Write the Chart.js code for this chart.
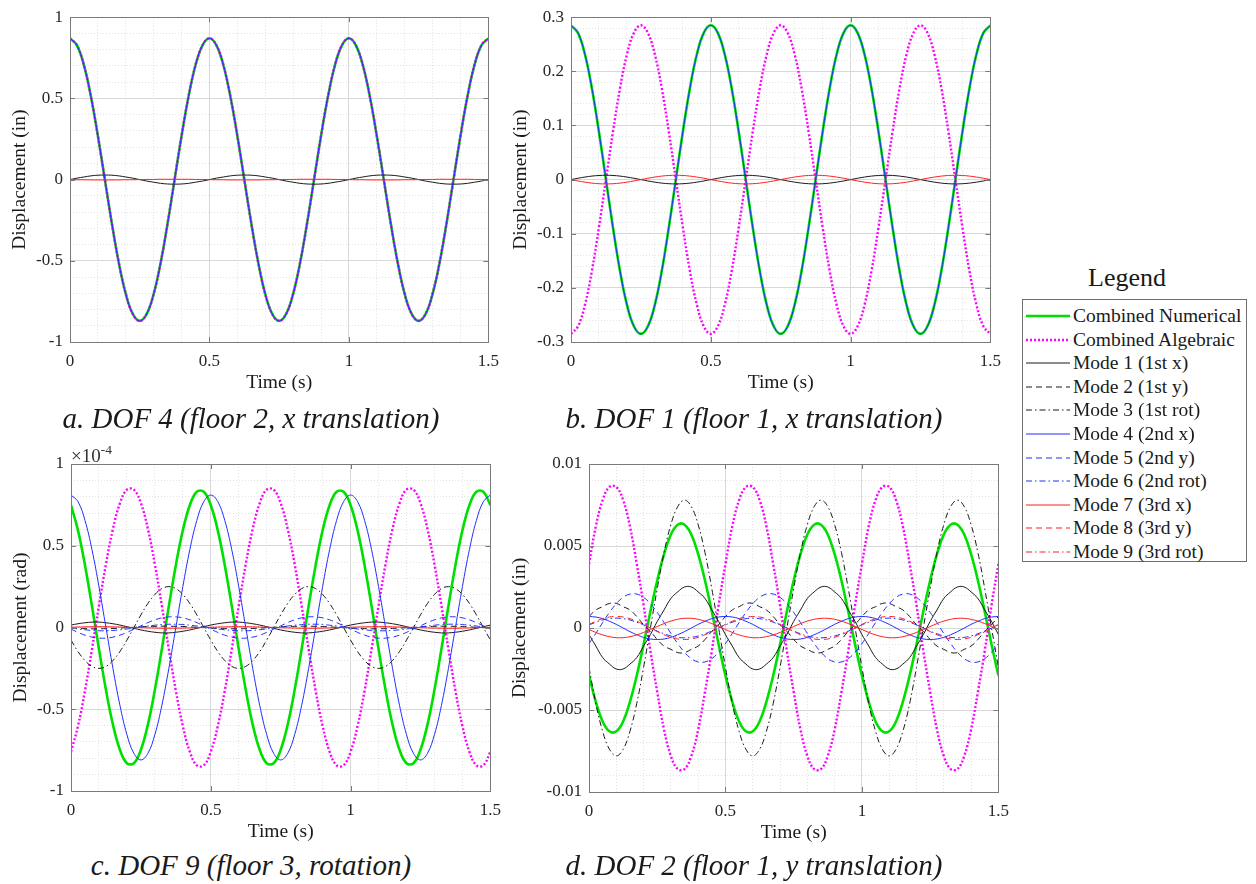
<!DOCTYPE html>
<html>
<head>
<meta charset="utf-8">
<script src="https://cdn.jsdelivr.net/npm/chart.js@4.4.1/dist/chart.umd.min.js"></script>
<style>
  body { margin: 0; background: #fff; width: 1256px; height: 884px; position: relative; overflow: hidden;
         font-family: "Liberation Serif", "Times New Roman", serif; color: #1a1a1a; }
  canvas { position: absolute; }
  .caption { position: absolute; font-style: italic; font-size: 29px; white-space: nowrap;
             transform: translate(-50%, -50%); }
  .exponent { position: absolute; left: 71px; top: 442px; font-size: 19px; color: #333; }
  .exponent sup { font-size: 13.5px; vertical-align: 8px; }
  #legendTitle { position: absolute; left: 1127px; top: 278px; transform: translate(-50%, -50%); font-size: 26px; }
  #legend { position: absolute; left: 1022px; top: 299px; width: 225px; height: 263px;
            border: 1px solid #6e6e6e; box-sizing: border-box; }
  .row { position: absolute; left: 0; height: 24px; width: 225px; font-size: 19.5px; line-height: 24px; }
  .row svg { position: absolute; left: 2px; top: 0; }
  .row span { position: absolute; left: 50px; top: 0; white-space: nowrap; }
</style>
</head>
<body>

<canvas id="dof4" width="500" height="395" style="left:8px;top:0px"></canvas>
<canvas id="dof1" width="501" height="395" style="left:509px;top:0px"></canvas>
<canvas id="dof9" width="501" height="410" style="left:9px;top:434px"></canvas>
<canvas id="dof2" width="510" height="411" style="left:508px;top:434px"></canvas>

<div class="exponent">&times;10<sup>-4</sup></div>

<div class="caption" style="left:251px;top:418px">a. DOF 4 (floor 2, x translation)</div>
<div class="caption" style="left:754px;top:418px">b. DOF 1 (floor 1, x translation)</div>
<div class="caption" style="left:251px;top:865px">c. DOF 9 (floor 3, rotation)</div>
<div class="caption" style="left:754px;top:865px">d. DOF 2 (floor 1, y translation)</div>

<div id="legendTitle">Legend</div>
<div id="legend"></div>

<script>
Chart.defaults.font.family = '"Liberation Serif", "Times New Roman", serif';

// sample times (s)
const timeSeconds = [
  0,0.025,0.05,0.075,0.1,0.125,0.15,0.175,0.2,0.225,0.25,0.275,0.3,0.325,0.35,0.375,0.4,0.425,0.45,0.475,
  0.5,0.525,0.55,0.575,0.6,0.625,0.65,0.675,0.7,0.725,0.75,0.775,0.8,0.825,0.85,0.875,0.9,0.925,0.95,0.975,
  1,1.025,1.05,1.075,1.1,1.125,1.15,1.175,1.2,1.225,1.25,1.275,1.3,1.325,1.35,1.375,1.4,1.425,1.45,1.475,
  1.5
];

// DOF 4 (floor 2, x) - inches
const dof4Numerical = [
  0.87,0.827,0.704,0.512,0.269,0,-0.269,-0.512,-0.704,-0.827,-0.87,-0.827,-0.704,-0.512,-0.269,0,0.269,0.512,0.704,0.827,
  0.87,0.827,0.704,0.512,0.269,0,-0.269,-0.512,-0.704,-0.827,-0.87,-0.827,-0.704,-0.512,-0.269,0,0.269,0.512,0.704,0.827,
  0.87,0.827,0.704,0.512,0.269,0,-0.269,-0.512,-0.704,-0.827,-0.87,-0.827,-0.704,-0.512,-0.269,0,0.269,0.512,0.704,0.827,
  0.87
];
// algebraic result and mode 4 sit right on top of the numerical curve
const dof4Algebraic = dof4Numerical;
const dof4Mode4 = dof4Numerical;
const dof4Mode1 = [
  0,0.009,0.016,0.023,0.027,0.028,0.027,0.023,0.016,0.009,0,-0.009,-0.016,-0.023,-0.027,-0.028,-0.027,-0.023,-0.016,-0.009,
  0,0.009,0.016,0.023,0.027,0.028,0.027,0.023,0.016,0.009,0,-0.009,-0.016,-0.023,-0.027,-0.028,-0.027,-0.023,-0.016,-0.009,
  0,0.009,0.016,0.023,0.027,0.028,0.027,0.023,0.016,0.009,0,-0.009,-0.016,-0.023,-0.027,-0.028,-0.027,-0.023,-0.016,-0.009,
  0
];
const dof4Mode7 = [
  0,-0.001,-0.001,-0.002,-0.002,-0.002,-0.002,-0.002,-0.001,-0.001,0,0.001,0.001,0.002,0.002,0.002,0.002,0.002,0.001,0.001,
  0,-0.001,-0.001,-0.002,-0.002,-0.002,-0.002,-0.002,-0.001,-0.001,0,0.001,0.001,0.002,0.002,0.002,0.002,0.002,0.001,0.001,
  0,-0.001,-0.001,-0.002,-0.002,-0.002,-0.002,-0.002,-0.001,-0.001,0,0.001,0.001,0.002,0.002,0.002,0.002,0.002,0.001,0.001,
  0
];

// DOF 1 (floor 1, x) - inches
const dof1Numerical = [
  0.285,0.271,0.231,0.168,0.088,0,-0.088,-0.168,-0.231,-0.271,-0.285,-0.271,-0.231,-0.168,-0.088,0,0.088,0.168,0.231,0.271,
  0.285,0.271,0.231,0.168,0.088,0,-0.088,-0.168,-0.231,-0.271,-0.285,-0.271,-0.231,-0.168,-0.088,0,0.088,0.168,0.231,0.271,
  0.285,0.271,0.231,0.168,0.088,0,-0.088,-0.168,-0.231,-0.271,-0.285,-0.271,-0.231,-0.168,-0.088,0,0.088,0.168,0.231,0.271,
  0.285
];
const dof1Algebraic = [
  -0.285,-0.271,-0.231,-0.168,-0.088,0,0.088,0.168,0.231,0.271,0.285,0.271,0.231,0.168,0.088,0,-0.088,-0.168,-0.231,-0.271,
  -0.285,-0.271,-0.231,-0.168,-0.088,0,0.088,0.168,0.231,0.271,0.285,0.271,0.231,0.168,0.088,0,-0.088,-0.168,-0.231,-0.271,
  -0.285,-0.271,-0.231,-0.168,-0.088,0,0.088,0.168,0.231,0.271,0.285,0.271,0.231,0.168,0.088,0,-0.088,-0.168,-0.231,-0.271,
  -0.285
];
const dof1Mode4 = dof1Numerical;
const dof1Mode1 = [
  0,0.0025,0.0047,0.0065,0.0076,0.008,0.0076,0.0065,0.0047,0.0025,0,-0.0025,-0.0047,-0.0065,-0.0076,-0.008,-0.0076,-0.0065,-0.0047,-0.0025,
  0,0.0025,0.0047,0.0065,0.0076,0.008,0.0076,0.0065,0.0047,0.0025,0,-0.0025,-0.0047,-0.0065,-0.0076,-0.008,-0.0076,-0.0065,-0.0047,-0.0025,
  0,0.0025,0.0047,0.0065,0.0076,0.008,0.0076,0.0065,0.0047,0.0025,0,-0.0025,-0.0047,-0.0065,-0.0076,-0.008,-0.0076,-0.0065,-0.0047,-0.0025,
  0
];
const dof1Mode7 = [
  0,-0.0025,-0.0047,-0.0065,-0.0076,-0.008,-0.0076,-0.0065,-0.0047,-0.0025,0,0.0025,0.0047,0.0065,0.0076,0.008,0.0076,0.0065,0.0047,0.0025,
  0,-0.0025,-0.0047,-0.0065,-0.0076,-0.008,-0.0076,-0.0065,-0.0047,-0.0025,0,0.0025,0.0047,0.0065,0.0076,0.008,0.0076,0.0065,0.0047,0.0025,
  0,-0.0025,-0.0047,-0.0065,-0.0076,-0.008,-0.0076,-0.0065,-0.0047,-0.0025,0,0.0025,0.0047,0.0065,0.0076,0.008,0.0076,0.0065,0.0047,0.0025,
  0
];

// DOF 9 (floor 3, rotation) - units of 1e-4 rad
const dof9Numerical = [
  0.748,0.594,0.381,0.131,-0.131,-0.381,-0.594,-0.748,-0.83,-0.83,-0.748,-0.594,-0.381,-0.131,0.131,0.381,0.594,0.748,0.83,0.83,
  0.748,0.594,0.381,0.131,-0.131,-0.381,-0.594,-0.748,-0.83,-0.83,-0.748,-0.594,-0.381,-0.131,0.131,0.381,0.594,0.748,0.83,0.83,
  0.748,0.594,0.381,0.131,-0.131,-0.381,-0.594,-0.748,-0.83,-0.83,-0.748,-0.594,-0.381,-0.131,0.131,0.381,0.594,0.748,0.83,0.83,
  0.748
];
const dof9Algebraic = [
  -0.76,-0.603,-0.387,-0.133,0.133,0.387,0.603,0.76,0.843,0.843,0.76,0.603,0.387,0.133,-0.133,-0.387,-0.603,-0.76,-0.843,-0.843,
  -0.76,-0.603,-0.387,-0.133,0.133,0.387,0.603,0.76,0.843,0.843,0.76,0.603,0.387,0.133,-0.133,-0.387,-0.603,-0.76,-0.843,-0.843,
  -0.76,-0.603,-0.387,-0.133,0.133,0.387,0.603,0.76,0.843,0.843,0.76,0.603,0.387,0.133,-0.133,-0.387,-0.603,-0.76,-0.843,-0.843,
  -0.76
];
const dof9Mode1 = [
  0.015,0.023,0.029,0.033,0.033,0.029,0.023,0.015,0.005,-0.005,-0.015,-0.023,-0.029,-0.033,-0.033,-0.029,-0.023,-0.015,-0.005,0.005,
  0.015,0.023,0.029,0.033,0.033,0.029,0.023,0.015,0.005,-0.005,-0.015,-0.023,-0.029,-0.033,-0.033,-0.029,-0.023,-0.015,-0.005,0.005,
  0.015,0.023,0.029,0.033,0.033,0.029,0.023,0.015,0.005,-0.005,-0.015,-0.023,-0.029,-0.033,-0.033,-0.029,-0.023,-0.015,-0.005,0.005,
  0.015
];
const dof9Mode2 = [
  -0.004,-0.006,-0.007,-0.008,-0.008,-0.007,-0.006,-0.004,-0.001,0.001,0.004,0.006,0.007,0.008,0.008,0.007,0.006,0.004,0.001,-0.001,
  -0.004,-0.006,-0.007,-0.008,-0.008,-0.007,-0.006,-0.004,-0.001,0.001,0.004,0.006,0.007,0.008,0.008,0.007,0.006,0.004,0.001,-0.001,
  -0.004,-0.006,-0.007,-0.008,-0.008,-0.007,-0.006,-0.004,-0.001,0.001,0.004,0.006,0.007,0.008,0.008,0.007,0.006,0.004,0.001,-0.001,
  -0.004
];
const dof9Mode3 = [
  -0.077,-0.147,-0.202,-0.238,-0.25,-0.238,-0.202,-0.147,-0.077,0,0.077,0.147,0.202,0.238,0.25,0.238,0.202,0.147,0.077,0,
  -0.077,-0.147,-0.202,-0.238,-0.25,-0.238,-0.202,-0.147,-0.077,0,0.077,0.147,0.202,0.238,0.25,0.238,0.202,0.147,0.077,0,
  -0.077,-0.147,-0.202,-0.238,-0.25,-0.238,-0.202,-0.147,-0.077,0,0.077,0.147,0.202,0.238,0.25,0.238,0.202,0.147,0.077,0,
  -0.077
];
const dof9Mode4 = [
  0.81,0.77,0.655,0.476,0.25,0,-0.25,-0.476,-0.655,-0.77,-0.81,-0.77,-0.655,-0.476,-0.25,0,0.25,0.476,0.655,0.77,
  0.81,0.77,0.655,0.476,0.25,0,-0.25,-0.476,-0.655,-0.77,-0.81,-0.77,-0.655,-0.476,-0.25,0,0.25,0.476,0.655,0.77,
  0.81,0.77,0.655,0.476,0.25,0,-0.25,-0.476,-0.655,-0.77,-0.81,-0.77,-0.655,-0.476,-0.25,0,0.25,0.476,0.655,0.77,
  0.81
];
const dof9Mode5 = [
  -0.01,-0.03,-0.047,-0.059,-0.065,-0.065,-0.059,-0.047,-0.03,-0.01,0.01,0.03,0.047,0.059,0.065,0.065,0.059,0.047,0.03,0.01,
  -0.01,-0.03,-0.047,-0.059,-0.065,-0.065,-0.059,-0.047,-0.03,-0.01,0.01,0.03,0.047,0.059,0.065,0.065,0.059,0.047,0.03,0.01,
  -0.01,-0.03,-0.047,-0.059,-0.065,-0.065,-0.059,-0.047,-0.03,-0.01,0.01,0.03,0.047,0.059,0.065,0.065,0.059,0.047,0.03,0.01,
  -0.01
];
const dof9Mode6 = [
  -0.003,-0.009,-0.014,-0.018,-0.02,-0.02,-0.018,-0.014,-0.009,-0.003,0.003,0.009,0.014,0.018,0.02,0.02,0.018,0.014,0.009,0.003,
  -0.003,-0.009,-0.014,-0.018,-0.02,-0.02,-0.018,-0.014,-0.009,-0.003,0.003,0.009,0.014,0.018,0.02,0.02,0.018,0.014,0.009,0.003,
  -0.003,-0.009,-0.014,-0.018,-0.02,-0.02,-0.018,-0.014,-0.009,-0.003,0.003,0.009,0.014,0.018,0.02,0.02,0.018,0.014,0.009,0.003,
  -0.003
];
const dof9Mode7 = [
  0.0015,0.0029,0.004,0.0048,0.005,0.0048,0.004,0.0029,0.0015,0,-0.0015,-0.0029,-0.004,-0.0048,-0.005,-0.0048,-0.004,-0.0029,-0.0015,0,
  0.0015,0.0029,0.004,0.0048,0.005,0.0048,0.004,0.0029,0.0015,0,-0.0015,-0.0029,-0.004,-0.0048,-0.005,-0.0048,-0.004,-0.0029,-0.0015,0,
  0.0015,0.0029,0.004,0.0048,0.005,0.0048,0.004,0.0029,0.0015,0,-0.0015,-0.0029,-0.004,-0.0048,-0.005,-0.0048,-0.004,-0.0029,-0.0015,0,
  0.0015
];

// DOF 2 (floor 1, y) - inches
const dof2Numerical = [
  -0.0029,-0.0045,-0.0057,-0.0063,-0.0063,-0.0057,-0.0045,-0.0029,-0.001,0.001,0.0029,0.0045,0.0057,0.0063,0.0063,0.0057,0.0045,0.0029,0.001,-0.001,
  -0.0029,-0.0045,-0.0057,-0.0063,-0.0063,-0.0057,-0.0045,-0.0029,-0.001,0.001,0.0029,0.0045,0.0057,0.0063,0.0063,0.0057,0.0045,0.0029,0.001,-0.001,
  -0.0029,-0.0045,-0.0057,-0.0063,-0.0063,-0.0057,-0.0045,-0.0029,-0.001,0.001,0.0029,0.0045,0.0057,0.0063,0.0063,0.0057,0.0045,0.0029,0.001,-0.001,
  -0.0029
];
const dof2Algebraic = [
  0.0039,0.0062,0.0078,0.0086,0.0086,0.0078,0.0062,0.0039,0.0014,-0.0014,-0.0039,-0.0062,-0.0078,-0.0086,-0.0086,-0.0078,-0.0062,-0.0039,-0.0014,0.0014,
  0.0039,0.0062,0.0078,0.0086,0.0086,0.0078,0.0062,0.0039,0.0014,-0.0014,-0.0039,-0.0062,-0.0078,-0.0086,-0.0086,-0.0078,-0.0062,-0.0039,-0.0014,0.0014,
  0.0039,0.0062,0.0078,0.0086,0.0086,0.0078,0.0062,0.0039,0.0014,-0.0014,-0.0039,-0.0062,-0.0078,-0.0086,-0.0086,-0.0078,-0.0062,-0.0039,-0.0014,0.0014,
  0.0039
];
const dof2Mode1 = [
  -0.0004,-0.0011,-0.0018,-0.0022,-0.0025,-0.0025,-0.0022,-0.0018,-0.0011,-0.0004,0.0004,0.0011,0.0018,0.0022,0.0025,0.0025,0.0022,0.0018,0.0011,0.0004,
  -0.0004,-0.0011,-0.0018,-0.0022,-0.0025,-0.0025,-0.0022,-0.0018,-0.0011,-0.0004,0.0004,0.0011,0.0018,0.0022,0.0025,0.0025,0.0022,0.0018,0.0011,0.0004,
  -0.0004,-0.0011,-0.0018,-0.0022,-0.0025,-0.0025,-0.0022,-0.0018,-0.0011,-0.0004,0.0004,0.0011,0.0018,0.0022,0.0025,0.0025,0.0022,0.0018,0.0011,0.0004,
  -0.0004
];
const dof2Mode2 = [
  0.0007,0.0011,0.0013,0.0015,0.0015,0.0013,0.0011,0.0007,0.0002,-0.0002,-0.0007,-0.0011,-0.0013,-0.0015,-0.0015,-0.0013,-0.0011,-0.0007,-0.0002,0.0002,
  0.0007,0.0011,0.0013,0.0015,0.0015,0.0013,0.0011,0.0007,0.0002,-0.0002,-0.0007,-0.0011,-0.0013,-0.0015,-0.0015,-0.0013,-0.0011,-0.0007,-0.0002,0.0002,
  0.0007,0.0011,0.0013,0.0015,0.0015,0.0013,0.0011,0.0007,0.0002,-0.0002,-0.0007,-0.0011,-0.0013,-0.0015,-0.0015,-0.0013,-0.0011,-0.0007,-0.0002,0.0002,
  0.0007
];
const dof2Mode3 = [
  -0.0024,-0.0046,-0.0063,-0.0074,-0.0078,-0.0074,-0.0063,-0.0046,-0.0024,0,0.0024,0.0046,0.0063,0.0074,0.0078,0.0074,0.0063,0.0046,0.0024,0,
  -0.0024,-0.0046,-0.0063,-0.0074,-0.0078,-0.0074,-0.0063,-0.0046,-0.0024,0,0.0024,0.0046,0.0063,0.0074,0.0078,0.0074,0.0063,0.0046,0.0024,0,
  -0.0024,-0.0046,-0.0063,-0.0074,-0.0078,-0.0074,-0.0063,-0.0046,-0.0024,0,0.0024,0.0046,0.0063,0.0074,0.0078,0.0074,0.0063,0.0046,0.0024,0,
  -0.0024
];
const dof2Mode4 = [
  0.0007,0.00067,0.00057,0.00041,0.00022,0,-0.00022,-0.00041,-0.00057,-0.00067,-0.0007,-0.00067,-0.00057,-0.00041,-0.00022,0,0.00022,0.00041,0.00057,0.00067,
  0.0007,0.00067,0.00057,0.00041,0.00022,0,-0.00022,-0.00041,-0.00057,-0.00067,-0.0007,-0.00067,-0.00057,-0.00041,-0.00022,0,0.00022,0.00041,0.00057,0.00067,
  0.0007,0.00067,0.00057,0.00041,0.00022,0,-0.00022,-0.00041,-0.00057,-0.00067,-0.0007,-0.00067,-0.00057,-0.00041,-0.00022,0,0.00022,0.00041,0.00057,0.00067,
  0.0007
];
const dof2Mode5 = [
  -0.00095,-0.00033,0.00033,0.00095,0.00148,0.00187,0.00207,0.00207,0.00187,0.00148,0.00095,0.00033,-0.00033,-0.00095,-0.00148,-0.00187,-0.00207,-0.00207,-0.00187,-0.00148,
  -0.00095,-0.00033,0.00033,0.00095,0.00148,0.00187,0.00207,0.00207,0.00187,0.00148,0.00095,0.00033,-0.00033,-0.00095,-0.00148,-0.00187,-0.00207,-0.00207,-0.00187,-0.00148,
  -0.00095,-0.00033,0.00033,0.00095,0.00148,0.00187,0.00207,0.00207,0.00187,0.00148,0.00095,0.00033,-0.00033,-0.00095,-0.00148,-0.00187,-0.00207,-0.00207,-0.00187,-0.00148,
  -0.00095
];
const dof2Mode6 = [
  0.00019,0.00035,0.00049,0.00057,0.0006,0.00057,0.00049,0.00035,0.00019,0,-0.00019,-0.00035,-0.00049,-0.00057,-0.0006,-0.00057,-0.00049,-0.00035,-0.00019,0,
  0.00019,0.00035,0.00049,0.00057,0.0006,0.00057,0.00049,0.00035,0.00019,0,-0.00019,-0.00035,-0.00049,-0.00057,-0.0006,-0.00057,-0.00049,-0.00035,-0.00019,0,
  0.00019,0.00035,0.00049,0.00057,0.0006,0.00057,0.00049,0.00035,0.00019,0,-0.00019,-0.00035,-0.00049,-0.00057,-0.0006,-0.00057,-0.00049,-0.00035,-0.00019,0,
  0.00019
];
const dof2Mode7 = [
  -0.00009,-0.00027,-0.00042,-0.00053,-0.00059,-0.00059,-0.00053,-0.00042,-0.00027,-0.00009,0.00009,0.00027,0.00042,0.00053,0.00059,0.00059,0.00053,0.00042,0.00027,0.00009,
  -0.00009,-0.00027,-0.00042,-0.00053,-0.00059,-0.00059,-0.00053,-0.00042,-0.00027,-0.00009,0.00009,0.00027,0.00042,0.00053,0.00059,0.00059,0.00053,0.00042,0.00027,0.00009,
  -0.00009,-0.00027,-0.00042,-0.00053,-0.00059,-0.00059,-0.00053,-0.00042,-0.00027,-0.00009,0.00009,0.00027,0.00042,0.00053,0.00059,0.00059,0.00053,0.00042,0.00027,0.00009,
  -0.00009
];
const dof2Mode8 = [
  0.00022,0.00041,0.00057,0.00067,0.0007,0.00067,0.00057,0.00041,0.00022,0,-0.00022,-0.00041,-0.00057,-0.00067,-0.0007,-0.00067,-0.00057,-0.00041,-0.00022,0,
  0.00022,0.00041,0.00057,0.00067,0.0007,0.00067,0.00057,0.00041,0.00022,0,-0.00022,-0.00041,-0.00057,-0.00067,-0.0007,-0.00067,-0.00057,-0.00041,-0.00022,0,
  0.00022,0.00041,0.00057,0.00067,0.0007,0.00067,0.00057,0.00041,0.00022,0,-0.00022,-0.00041,-0.00057,-0.00067,-0.0007,-0.00067,-0.00057,-0.00041,-0.00022,0,
  0.00022
];

// legend entries, shared by all four plots
const seriesNames = ['Combined Numerical', 'Combined Algebraic',
  'Mode 1 (1st x)', 'Mode 2 (1st y)', 'Mode 3 (1st rot)',
  'Mode 4 (2nd x)', 'Mode 5 (2nd y)', 'Mode 6 (2nd rot)',
  'Mode 7 (3rd x)', 'Mode 8 (3rd y)', 'Mode 9 (3rd rot)'];
const seriesColors = ['#00e000', '#ff00ff',
  '#1a1a1a', '#1a1a1a', '#1a1a1a',
  '#1f2fff', '#1f2fff', '#1f2fff',
  '#ff2020', '#ff2020', '#ff2020'];
const seriesDash = [[], [2, 2], [], [6, 4], [6, 3, 1.5, 3], [], [6, 4], [6, 3, 1.5, 3], [], [6, 4], [6, 3, 1.5, 3]];
const seriesWidth = [2.6, 2.4, 1, 1, 1, 1, 1, 1, 1, 1, 1];

function isMajor(v, step) {
	return Math.abs(v / step - Math.round(v / step)) < 1e-6;
}

function fmt(v) {
	return String(parseFloat(v.toFixed(4)));
}

// box round the plot area plus inward tick marks, like the usual engineering plot
const axesBox = {
	id: 'axesBox',
	afterDatasetsDraw(chart, args, opts) {
		const ctx = chart.ctx;
		const a = chart.chartArea;
		const sx = chart.scales.x, sy = chart.scales.y;
		ctx.save();
		ctx.strokeStyle = '#7a7a7a';
		ctx.lineWidth = 1;
		ctx.beginPath();
		sx.ticks.forEach(t => {
			if (!isMajor(t.value, opts.xMajor)) return;
			const px = Math.round(sx.getPixelForValue(t.value)) + 0.5;
			ctx.moveTo(px, a.bottom); ctx.lineTo(px, a.bottom - 5);
			ctx.moveTo(px, a.top); ctx.lineTo(px, a.top + 5);
		});
		sy.ticks.forEach(t => {
			if (!isMajor(t.value, opts.yMajor)) return;
			const py = Math.round(sy.getPixelForValue(t.value)) + 0.5;
			ctx.moveTo(a.left, py); ctx.lineTo(a.left + 5, py);
			ctx.moveTo(a.right, py); ctx.lineTo(a.right - 5, py);
		});
		ctx.stroke();
		ctx.strokeRect(Math.round(a.left) + 0.5, Math.round(a.top) + 0.5,
			Math.round(a.right - a.left), Math.round(a.bottom - a.top));
		ctx.restore();
	}
};

function axisOptions(min, max, minor, major, title) {
	return {
		type: 'linear',
		min: min,
		max: max,
		ticks: {
			stepSize: minor,
			autoSkip: false,
			maxRotation: 0,
			color: '#262626',
			font: { size: 17 },
			callback: v => isMajor(v, major) ? fmt(v) : ''
		},
		grid: {
			drawTicks: false,
			lineWidth: 1,
			color: c => (c.tick && !isMajor(c.tick.value, major)) ? '#e2e2e2' : '#d8d8d8'
		},
		border: {
			display: false,
			dash: c => (c.tick && !isMajor(c.tick.value, major)) ? [1, 2] : []
		},
		title: { display: true, text: title, color: '#1a1a1a', font: { size: 19.5 }, padding: 0 }
	};
}

function displayPanel(id, series, yMin, yMax, yMinor, yMajor, yTitle, yWidth, padTop) {
	var el = document.getElementById(id).getContext('2d');
	const datasets = [];
	series.forEach((values, i) => {
		if (!values) return;
		datasets.push({
			label: seriesNames[i],
			data: values.map((v, k) => ({ x: timeSeconds[k], y: v })),
			borderColor: seriesColors[i],
			borderWidth: seriesWidth[i],
			borderDash: seriesDash[i],
			pointRadius: 0,
			tension: 0.4,
			fill: false,
			order: 11 - i
		});
	});

	const xAxis = axisOptions(0, 1.5, 0.1, 0.5, 'Time (s)');
	xAxis.ticks.padding = 9;
	xAxis.afterFit = s => { s.height = 53; };
	const yAxis = axisOptions(yMin, yMax, yMinor, yMajor, yTitle);
	yAxis.ticks.padding = 7;
	yAxis.afterFit = s => { s.width = yWidth; };

	new Chart(el, {
		type: 'line',
		data: { datasets: datasets },
		options: {
			responsive: false,
			animation: false,
			events: [],
			layout: { padding: { top: padTop, right: 15, left: 0, bottom: 0 } },
			plugins: {
				legend: { display: false },
				tooltip: { enabled: false },
				axesBox: { xMajor: 0.5, yMajor: yMajor }
			},
			scales: { x: xAxis, y: yAxis }
		},
		plugins: [axesBox]
	});
}

displayPanel('dof4',
	[dof4Numerical, dof4Algebraic, dof4Mode1, null, null, dof4Mode4, null, null, dof4Mode7, null, null],
	-1, 1, 0.1, 0.5, 'Displacement (in)', 62, 14);
displayPanel('dof1',
	[dof1Numerical, dof1Algebraic, dof1Mode1, null, null, dof1Mode4, null, null, dof1Mode7, null, null],
	-0.3, 0.3, 0.02, 0.1, 'Displacement (in)', 62, 14);
displayPanel('dof9',
	[dof9Numerical, dof9Algebraic, dof9Mode1, dof9Mode2, dof9Mode3, dof9Mode4, dof9Mode5, dof9Mode6, dof9Mode7, null, null],
	-1, 1, 0.1, 0.5, 'Displacement (rad)', 62, 30);
displayPanel('dof2',
	[dof2Numerical, dof2Algebraic, dof2Mode1, dof2Mode2, dof2Mode3, dof2Mode4, dof2Mode5, dof2Mode6, dof2Mode7, dof2Mode8, null],
	-0.01, 0.01, 0.001, 0.005, 'Displacement (in)', 81, 30);

// legend rows with short line samples
const legendBox = document.getElementById('legend');
seriesNames.forEach((name, i) => {
	const row = document.createElement('div');
	row.className = 'row';
	row.style.top = (4 + i * 23.6) + 'px';
	const dash = seriesDash[i].length ? seriesDash[i].join(' ') : 'none';
	row.innerHTML = '<svg width="46" height="24"><line x1="1" y1="12" x2="45" y2="12" stroke="' + seriesColors[i] +
		'" stroke-width="' + (i < 2 ? 2.4 : 1.2) + '" stroke-dasharray="' + dash + '"/></svg><span>' + name + '</span>';
	legendBox.appendChild(row);
});
</script>
</body>
</html>
